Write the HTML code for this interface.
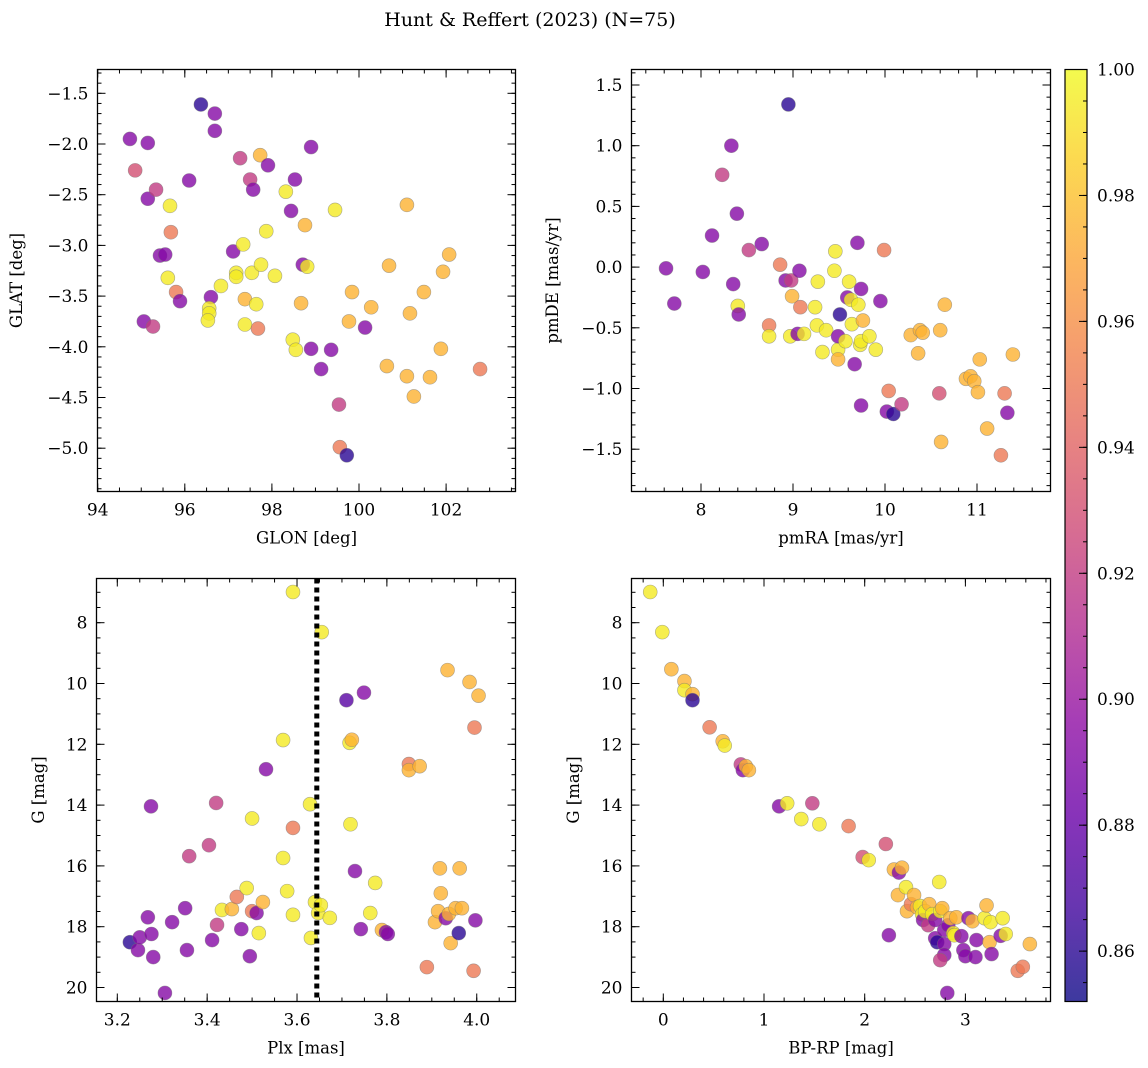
<!DOCTYPE html>
<html><head><meta charset="utf-8"><style>
html,body{margin:0;padding:0;background:#fff;}
svg{display:block;font-family:"DejaVu Serif","Liberation Serif",serif;}
</style></head><body>
<svg id="fig" width="1148" height="1068" viewBox="0 0 1148 1068" xmlns="http://www.w3.org/2000/svg">
<defs>
<linearGradient id="plasma" x1="0" y1="1" x2="0" y2="0">
<stop offset="0" stop-color="#0d0887"/><stop offset="0.1" stop-color="#41049d"/><stop offset="0.2" stop-color="#6a00a8"/><stop offset="0.3" stop-color="#8f0da4"/><stop offset="0.4" stop-color="#b12a90"/><stop offset="0.5" stop-color="#cc4778"/><stop offset="0.6" stop-color="#e16462"/><stop offset="0.7" stop-color="#f2844b"/><stop offset="0.8" stop-color="#fca636"/><stop offset="0.9" stop-color="#fcce25"/><stop offset="1" stop-color="#f0f921"/>
</linearGradient>
</defs>
<text x="530" y="26" font-size="19" text-anchor="middle">Hunt &amp; Reffert (2023) (N=75)</text>
</svg>
<script>
// ---- Panel 1: GLON / GLAT ----
const glon = [94.74,94.86,95.15,95.15,95.34,95.66,95.68,95.43,95.55,95.61,95.06,95.27,95.80,95.89,96.10,96.37,96.69,96.69,96.60,96.56,96.56,96.53,96.83,97.11,97.18,97.18,97.27,97.34,97.38,97.38,97.50,97.57,97.54,97.64,97.68,97.73,97.75,97.87,97.91,98.07,98.32,98.44,98.53,98.48,98.55,98.67,98.76,98.71,98.81,98.90,98.90,99.13,99.36,99.45,99.54,99.56,99.72,99.77,99.84,100.14,100.28,100.64,100.69,101.10,101.10,101.17,101.26,101.49,101.63,101.88,101.93,102.07,102.78];
const glat = [-1.95,-2.26,-1.99,-2.54,-2.45,-2.61,-2.87,-3.10,-3.09,-3.32,-3.75,-3.80,-3.46,-3.55,-2.36,-1.61,-1.70,-1.87,-3.51,-3.62,-3.67,-3.74,-3.40,-3.06,-3.27,-3.31,-2.14,-2.99,-3.78,-3.53,-2.35,-2.45,-3.27,-3.58,-3.82,-2.11,-3.19,-2.86,-2.21,-3.30,-2.47,-2.66,-2.35,-3.93,-4.03,-3.57,-2.80,-3.19,-3.21,-2.03,-4.02,-4.22,-4.03,-2.65,-4.57,-4.99,-5.07,-3.75,-3.46,-3.81,-3.61,-4.19,-3.20,-2.60,-4.29,-3.67,-4.49,-3.46,-4.30,-4.02,-3.26,-3.09,-4.22];
const prob1 = [0.892,0.93,0.892,0.892,0.92,0.995,0.95,0.892,0.892,0.995,0.892,0.92,0.95,0.892,0.892,0.86,0.892,0.892,0.892,0.995,0.995,0.995,0.995,0.892,0.995,0.995,0.92,0.995,0.995,0.975,0.92,0.892,0.995,0.995,0.95,0.975,0.995,0.995,0.892,0.995,0.995,0.892,0.892,0.995,0.995,0.975,0.975,0.892,0.995,0.892,0.892,0.892,0.892,0.995,0.92,0.95,0.86,0.975,0.975,0.892,0.975,0.975,0.975,0.975,0.975,0.975,0.975,0.975,0.975,0.975,0.975,0.975,0.95];
// ---- Panel 2: pmRA / pmDE ----
const pmra = [7.62,7.71,8.02,8.12,8.23,8.33,8.35,8.39,8.40,8.41,8.52,8.66,8.74,8.74,8.86,8.92,8.95,8.98,8.99,8.97,9.05,9.07,9.08,9.12,9.24,9.26,9.27,9.32,9.36,9.45,9.46,9.49,9.49,9.49,9.51,9.57,9.59,9.61,9.63,9.64,9.67,9.70,9.71,9.73,9.74,9.74,9.76,9.74,9.83,9.90,9.95,9.99,10.02,10.04,10.09,10.18,10.28,10.36,10.38,10.41,10.60,10.59,10.61,10.65,10.88,10.93,10.97,11.01,11.03,11.11,11.26,11.30,11.33,11.39];
const pmde = [-0.01,-0.30,-0.04,0.26,0.76,1.00,-0.14,0.44,-0.32,-0.39,0.14,0.19,-0.48,-0.57,0.02,-0.11,1.34,-0.11,-0.24,-0.57,-0.55,-0.03,-0.33,-0.55,-0.33,-0.48,-0.12,-0.70,-0.52,-0.03,0.13,-0.68,-0.57,-0.76,-0.39,-0.61,-0.25,-0.12,-0.27,-0.47,-0.80,0.20,-0.31,-0.64,-0.18,-1.14,-0.44,-0.61,-0.57,-0.68,-0.28,0.14,-1.19,-1.02,-1.21,-1.13,-0.56,-0.71,-0.52,-0.54,-0.52,-1.04,-1.44,-0.31,-0.92,-0.90,-0.94,-1.03,-0.76,-1.33,-1.55,-1.04,-1.20,-0.72];
const prob2 = [0.892,0.892,0.892,0.892,0.92,0.892,0.892,0.892,0.995,0.892,0.92,0.892,0.95,0.995,0.95,0.892,0.86,0.92,0.975,0.995,0.892,0.892,0.95,0.995,0.995,0.995,0.995,0.995,0.995,0.995,0.995,0.995,0.892,0.975,0.86,0.995,0.892,0.995,0.995,0.995,0.892,0.892,0.995,0.995,0.892,0.892,0.975,0.995,0.995,0.995,0.892,0.95,0.892,0.95,0.86,0.92,0.975,0.975,0.975,0.975,0.975,0.93,0.975,0.975,0.975,0.975,0.975,0.975,0.975,0.975,0.95,0.95,0.892,0.975];
// ---- Panel 3: Plx / G ----
const plx = [3.228,3.246,3.250,3.268,3.275,3.276,3.280,3.306,3.322,3.351,3.355,3.360,3.404,3.411,3.420,3.422,3.433,3.455,3.466,3.476,3.488,3.495,3.500,3.500,3.510,3.515,3.524,3.531,3.569,3.569,3.578,3.591,3.591,3.591,3.629,3.631,3.640,3.647,3.653,3.655,3.673,3.710,3.717,3.719,3.722,3.729,3.742,3.749,3.763,3.774,3.789,3.798,3.802,3.849,3.849,3.873,3.889,3.907,3.914,3.918,3.920,3.931,3.935,3.938,3.942,3.953,3.960,3.962,3.967,3.984,3.993,3.995,3.997,4.004];
const gmag3 = [18.51,18.77,18.35,17.69,14.04,18.24,19.00,20.18,17.85,17.39,18.77,15.68,15.32,18.44,13.93,17.94,17.45,17.42,17.02,18.08,16.73,18.97,14.44,17.49,17.55,18.21,17.19,12.82,11.86,15.74,16.83,6.99,14.75,17.61,13.97,18.37,17.19,17.55,17.29,8.31,17.71,10.55,11.95,14.63,11.85,16.17,18.08,10.30,17.55,16.56,18.11,18.18,18.24,12.65,12.85,12.72,19.33,17.85,17.49,16.08,16.90,17.72,9.56,17.58,18.54,17.39,18.21,16.08,17.39,9.95,19.45,11.45,17.79,10.40];
const prob3 = [0.86,0.892,0.892,0.892,0.892,0.892,0.892,0.892,0.892,0.892,0.892,0.92,0.92,0.892,0.92,0.92,0.995,0.975,0.95,0.892,0.995,0.892,0.995,0.95,0.892,0.995,0.975,0.892,0.995,0.995,0.995,0.995,0.95,0.995,0.995,0.995,0.995,0.995,0.995,0.995,0.995,0.875,0.995,0.995,0.975,0.892,0.892,0.892,0.995,0.995,0.975,0.892,0.892,0.95,0.975,0.975,0.95,0.975,0.975,0.975,0.975,0.892,0.975,0.975,0.975,0.975,0.86,0.975,0.975,0.975,0.95,0.95,0.892,0.975];
// ---- Panel 4: BP-RP / G ----
const bprp = [-0.13,-0.01,0.08,0.21,0.21,0.29,0.29,0.46,0.59,0.61,0.77,0.79,0.82,0.85,1.15,1.23,1.37,1.48,1.55,1.84,1.98,2.04,2.21,2.24,2.29,2.34,2.37,2.33,2.41,2.42,2.46,2.49,2.52,2.55,2.57,2.58,2.60,2.63,2.64,2.67,2.70,2.70,2.72,2.74,2.75,2.77,2.79,2.79,2.79,2.75,2.83,2.85,2.88,2.89,2.91,2.96,2.98,3.00,3.03,3.07,3.11,3.19,3.24,3.25,2.82,3.21,3.26,3.35,3.37,3.40,3.64,3.52,3.57,3.10];
const gmag4 = [6.99,8.31,9.53,9.92,10.22,10.35,10.55,11.44,11.90,12.04,12.66,12.85,12.72,12.85,14.04,13.94,14.46,13.94,14.63,14.69,15.71,15.81,15.28,18.28,16.12,16.22,16.06,16.96,16.70,17.49,17.26,16.96,17.36,17.32,17.59,17.78,17.49,17.95,17.26,17.59,18.38,17.78,18.51,16.53,17.49,17.39,18.11,18.57,18.93,19.10,17.95,17.72,18.21,18.28,17.69,18.31,18.77,18.97,17.72,17.82,18.44,17.72,18.51,17.85,20.18,17.30,18.90,18.30,17.72,18.24,18.57,19.45,19.32,19.00];
const prob4 = [0.995,0.995,0.975,0.975,0.995,0.975,0.86,0.95,0.975,0.995,0.92,0.892,0.975,0.975,0.892,0.995,0.995,0.92,0.995,0.95,0.93,0.995,0.93,0.892,0.975,0.892,0.975,0.975,0.995,0.975,0.95,0.975,0.975,0.995,0.995,0.892,0.995,0.92,0.975,0.995,0.892,0.892,0.86,0.995,0.995,0.975,0.892,0.892,0.892,0.92,0.892,0.975,0.995,0.995,0.975,0.892,0.892,0.892,0.892,0.975,0.892,0.995,0.975,0.995,0.892,0.975,0.892,0.892,0.995,0.995,0.975,0.95,0.95,0.892];
// reference line and colour scale
const plxRef = [3.644];
const cbTicks = [0.86,0.88,0.90,0.92,0.94,0.96,0.98,1.00];
const vmin = 0.852, vmax = 1.0;

const NS = "http://www.w3.org/2000/svg";
const svg = document.getElementById('fig');
function el(tag, attrs, parent){const e=document.createElementNS(NS,tag);for(const k in attrs)e.setAttribute(k,attrs[k]);(parent||svg).appendChild(e);return e;}

const stops=[[0,[13,8,135]],[0.1,[65,4,157]],[0.2,[106,0,168]],[0.3,[143,13,164]],[0.4,[177,42,144]],[0.5,[204,71,120]],[0.6,[225,100,98]],[0.7,[242,132,75]],[0.8,[252,166,54]],[0.9,[252,206,37]],[1,[240,249,33]]];
function plasma(v){let t=(v-vmin)/(vmax-vmin);t=Math.max(0,Math.min(1,t));for(let i=0;i<stops.length-1;i++){const a=stops[i],b=stops[i+1];if(t<=b[0]){const f=(t-a[0])/(b[0]-a[0]);const c=a[1].map((x,j)=>Math.round(x+(b[1][j]-x)*f));return `rgb(${c[0]},${c[1]},${c[2]})`;}}return 'rgb(240,249,33)';}

function fmt(v,d){let s=v.toFixed(d);if(v<0)s='\u2212'+(-v).toFixed(d);return s;}

function panel(o){
  const g=el('g',{});
  
  
  const X=o.sx,Y=o.sy;
  const xi=p=>o.xv0+(p-o.xp0)/o.xk, yi=p=>o.yv0+(p-o.yp0)/o.yk;
  const xmin=Math.min(xi(o.L),xi(o.R)),xmax=Math.max(xi(o.L),xi(o.R));
  const ymin=Math.min(yi(o.T),yi(o.B)),ymax=Math.max(yi(o.T),yi(o.B));
  const cid='clip'+o.name;
  const cp=el('clipPath',{id:cid},g);el('rect',{x:o.L,y:o.T,width:o.R-o.L,height:o.B-o.T},cp);
  const pts=el('g',{'clip-path':`url(#${cid})`},g);
  
  
  for(let i=0;i<o.xs.length;i++){
    const c=el('circle',{cx:X(o.xs[i]),cy:Y(o.ys[i]),r:7,fill:plasma(o.cs[i]),'fill-opacity':0.8,stroke:'#777','stroke-opacity':0.6,'stroke-width':0.6},pts);
    
    
  }
  if(o.extra)o.extra(pts);
  el('rect',{x:o.L,y:o.T,width:o.R-o.L,height:o.B-o.T,fill:'none',stroke:'#000','stroke-width':1.3},g);
  const tk=(v0,v1,step)=>{const a=[];for(let k=Math.ceil(v0/step-1e-6);k<=Math.floor(v1/step+1e-6);k++)a.push(+(k*step).toFixed(6));return a;};
  const xt=el('g',{},g);
  tk(xmin,xmax,o.xminor).forEach(v=>{const x=X(v);el('line',{x1:x,x2:x,y1:o.B,y2:o.B-4,stroke:'#000'},xt);el('line',{x1:x,x2:x,y1:o.T,y2:o.T+4,stroke:'#000'},xt);});
  tk(xmin,xmax,o.xmajor).forEach(v=>{const x=X(v);el('line',{x1:x,x2:x,y1:o.B,y2:o.B-8,stroke:'#000'},xt);el('line',{x1:x,x2:x,y1:o.T,y2:o.T+8,stroke:'#000'},xt);
    const t=el('text',{x:x,y:o.B+24,'font-size':17,'text-anchor':'middle'},xt);t.textContent=fmt(v,o.xd);});
  const yt=el('g',{},g);
  tk(ymin,ymax,o.yminor).forEach(v=>{const y=Y(v);el('line',{x1:o.L,x2:o.L+4,y1:y,y2:y,stroke:'#000'},yt);el('line',{x1:o.R,x2:o.R-4,y1:y,y2:y,stroke:'#000'},yt);});
  tk(ymin,ymax,o.ymajor).forEach(v=>{const y=Y(v);el('line',{x1:o.L,x2:o.L+8,y1:y,y2:y,stroke:'#000'},yt);el('line',{x1:o.R,x2:o.R-8,y1:y,y2:y,stroke:'#000'},yt);
    const t=el('text',{x:o.L-9,y:y+6,'font-size':17,'text-anchor':'end'},yt);t.textContent=fmt(v,o.yd);});
  const xl=el('text',{x:(o.L+o.R)/2,y:o.B+52,'font-size':16.5,'text-anchor':'middle'},g);xl.textContent=o.xlabel;
  
  const yl=el('text',{x:0,y:0,'font-size':16.5,'text-anchor':'middle',transform:`translate(${o.ylx},${(o.T+o.B)/2}) rotate(-90)`},g);yl.textContent=o.ylabel;
  
}
function mk(v0,p0,k){return v=>p0+(v-v0)*k;}
const gScale=mk(8,622.7,30.4);
panel({name:'glon-glat-panel',L:97.5,R:515.5,T:69.5,B:491.5,sx:mk(94,97.7,43.55),xv0:94,xp0:97.7,xk:43.55,sy:mk(-1.5,93.3,-101.4),yv0:-1.5,yp0:93.3,yk:-101.4,
  xs:glon,ys:glat,cs:prob1,xmajor:2,xminor:0.5,xd:0,ymajor:0.5,yminor:0.1,yd:1,xlabel:'GLON [deg]',ylabel:'GLAT [deg]',ylx:22});
panel({name:'proper-motion-panel',L:631.5,R:1050.5,T:69.5,B:491.5,sx:mk(8,701,92),xv0:8,xp0:701,xk:92,sy:mk(1.5,85,-121.4),yv0:1.5,yp0:85,yk:-121.4,
  xs:pmra,ys:pmde,cs:prob2,xmajor:1,xminor:0.2,xd:0,ymajor:0.5,yminor:0.1,yd:1,xlabel:'pmRA [mas/yr]',ylabel:'pmDE [mas/yr]',ylx:558});
panel({name:'parallax-panel',L:96.5,R:515.5,T:578.5,B:1001.5,sx:mk(3.2,117.3,449.3),xv0:3.2,xp0:117.3,xk:449.3,sy:gScale,yv0:8,yp0:622.7,yk:30.4,
  xs:plx,ys:gmag3,cs:prob3,xmajor:0.2,xminor:0.05,xd:1,ymajor:2,yminor:0.5,yd:0,xlabel:'Plx [mas]',ylabel:'G [mag]',ylx:44,
  extra:(p)=>{plxRef.forEach(v=>{const x=mk(3.2,117.3,449.3)(v);const l=el('line',{x1:x,x2:x,y1:578.5,y2:1001.5,stroke:'#000','stroke-width':5,'stroke-dasharray':'5,4'},p);
    
    });}});
panel({name:'cmd-panel',L:631.5,R:1050.5,T:578.5,B:1001.5,sx:mk(0,663.3,100.7),xv0:0,xp0:663.3,xk:100.7,sy:gScale,yv0:8,yp0:622.7,yk:30.4,
  xs:bprp,ys:gmag4,cs:prob4,xmajor:1,xminor:0.2,xd:0,ymajor:2,yminor:0.5,yd:0,xlabel:'BP-RP [mag]',ylabel:'G [mag]',ylx:579});

// colorbar
const cb=el('g',{});


const cT=69.5,cB=1001.5,cL=1065,cR=1087;
const cy=v=>cB-(v-vmin)/(vmax-vmin)*(cB-cT);
el('rect',{x:cL,y:cT,width:cR-cL,height:cB-cT,fill:'url(#plasma)','fill-opacity':0.8},cb);
el('rect',{x:cL,y:cT,width:cR-cL,height:cB-cT,fill:'none',stroke:'#000','stroke-width':1.2},cb);
for(let k=Math.ceil(vmin/0.005);k<=200;k++){const v=k*0.005;const y=cy(v);el('line',{x1:cR,x2:cR-4,y1:y,y2:y,stroke:'#000'},cb);}
cbTicks.forEach(v=>{const y=cy(v);el('line',{x1:cR,x2:cR-8,y1:y,y2:y,stroke:'#000'},cb);
  const t=el('text',{x:cR+10,y:y+6,'font-size':17},cb);t.textContent=v.toFixed(2);
  
  });
</script>
</body></html>
